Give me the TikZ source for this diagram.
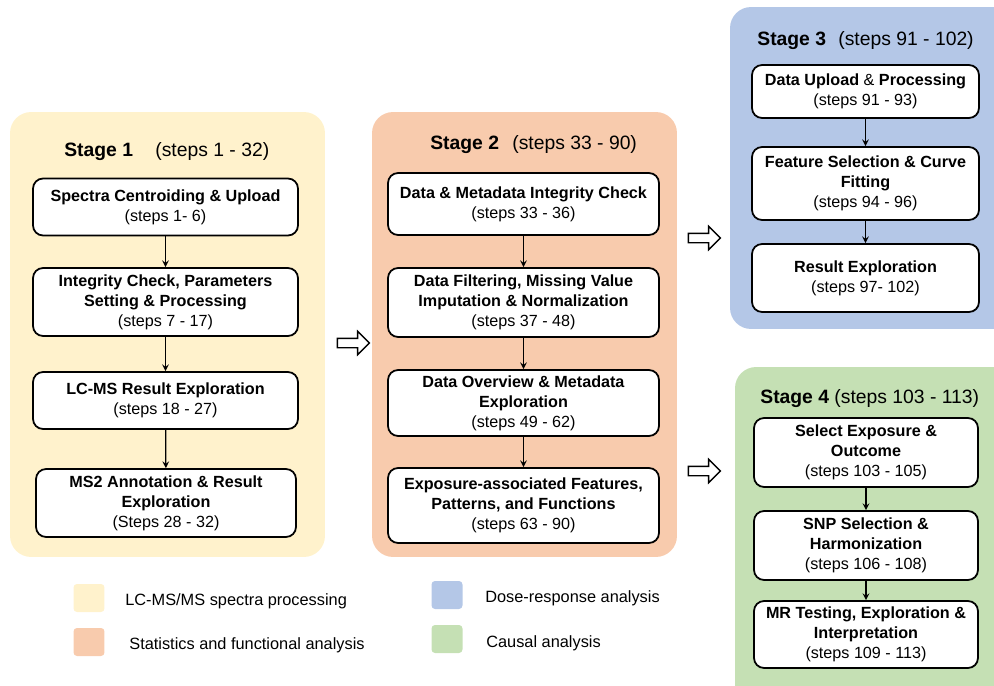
\documentclass[tikz,border=0pt]{standalone}
\usepackage{fontspec}
\setmainfont{Liberation Sans}
\usetikzlibrary{shapes.arrows, positioning}

\definecolor{stageone}{HTML}{FFF2CC}
\definecolor{stagetwo}{HTML}{F8CBAD}
\definecolor{stagethree}{HTML}{B4C7E7}
\definecolor{stagefour}{HTML}{C5E0B4}

\begin{document}
\begin{tikzpicture}[x=0.02cm, y=-0.02cm,
    stagebg/.style={rectangle, rounded corners=0.42cm, inner sep=0pt},
    stepbox/.style={rectangle, draw=black, fill=white, line width=1pt,
                    rounded corners=0.2cm, align=center, inner sep=2pt,
                    font=\fontsize{9.2}{11.3}\selectfont},
    stagetitle/.style={anchor=west, inner sep=0pt, font=\fontsize{11}{13}\selectfont},
    flow/.style={->, >=stealth, line width=0.7pt},
    bigarrow/.style={single arrow, draw=black, fill=white, line width=0.8pt,
                     minimum height=0.64cm, single arrow head extend=0.14cm,
                     inner sep=0.08cm},
    legendbox/.style={rectangle, rounded corners=2pt, minimum width=0.62cm,
                      minimum height=0.56cm},
    legendtext/.style={anchor=west, inner sep=0pt, font=\fontsize{9.3}{11}\selectfont}]

    \clip (0,0) rectangle (994,686);

    % stage panels
    \node[stagebg, fill=stageone, minimum width=6.3cm, minimum height=8.9cm] (panel1) at (167.5,334.5) {};
    \node[stagebg, fill=stagetwo, minimum width=6.1cm, minimum height=8.9cm] (panel2) at (524.5,334.5) {};
    \node[stagebg, fill=stagethree, minimum width=5.8cm, minimum height=6.44cm] (panel3) at (875,168) {};
    \node[stagebg, fill=stagefour, minimum width=5.7cm, minimum height=7cm] (panel4) at (877.5,542) {};

    % titles
    \node[stagetitle] (title1) at (64,152) {\bfseries Stage 1};
    \node[stagetitle] (steps1) at (155,152) {(steps 1 - 32)};
    \node[stagetitle] (title2) at (430,145) {\bfseries Stage 2};
    \node[stagetitle] (steps2) at (512,145) {(steps 33 - 90)};
    \node[stagetitle] (title3) at (757,41) {\bfseries Stage 3};
    \node[stagetitle] (steps3) at (838,41) {(steps 91 - 102)};
    \node[stagetitle] (title4) at (760,399) {\textbf{Stage 4} (steps 103 - 113)};

    % stage 1
    \node[stepbox, minimum width=5.3cm, minimum height=1.14cm] (centroid) at (165.5,207)
        {\textbf{Spectra Centroiding \& Upload}\\(steps 1- 6)};
    \node[stepbox, minimum width=5.3cm, minimum height=1.36cm] (integrity) at (165.5,302)
        {\textbf{Integrity Check, Parameters}\\\textbf{Setting \& Processing}\\(steps 7 - 17)};
    \node[stepbox, minimum width=5.3cm, minimum height=1.14cm] (lcms) at (165.5,400.5)
        {\textbf{LC-MS Result Exploration}\\(steps 18 - 27)};
    \node[stepbox, minimum width=5.2cm, minimum height=1.36cm] (annot) at (166,503)
        {\textbf{MS2 Annotation \& Result}\\\textbf{Exploration}\\(Steps 28 - 32)};

    % stage 2
    \node[stepbox, minimum width=5.42cm, minimum height=1.24cm] (metacheck) at (523.5,204)
        {\textbf{Data \& Metadata Integrity Check}\\(steps 33 - 36)};
    \node[stepbox, minimum width=5.42cm, minimum height=1.38cm] (filtering) at (523.5,302.5)
        {\textbf{Data Filtering, Missing Value}\\\textbf{Imputation \& Normalization}\\(steps 37 - 48)};
    \node[stepbox, minimum width=5.42cm, minimum height=1.32cm] (overview) at (523.5,403)
        {\textbf{Data Overview \& Metadata}\\\textbf{Exploration}\\(steps 49 - 62)};
    \node[stepbox, minimum width=5.42cm, minimum height=1.5cm] (exposure) at (523.5,505.5)
        {\textbf{Exposure-associated Features,}\\\textbf{Patterns, and Functions}\\(steps 63 - 90)};

    % stage 3
    \node[stepbox, minimum width=4.54cm, minimum height=1.06cm] (upload) at (865.5,91.5)
        {\textbf{Data Upload} \& \textbf{Processing}\\(steps 91 - 93)};
    \node[stepbox, minimum width=4.54cm, minimum height=1.46cm] (curve) at (865.5,183.5)
        {\textbf{Feature Selection \& Curve}\\\textbf{Fitting}\\(steps 94 - 96)};
    \node[stepbox, minimum width=4.54cm, minimum height=1.36cm] (result) at (865.5,278)
        {\textbf{Result Exploration}\\(steps 97- 102)};

    % stage 4
    \node[stepbox, minimum width=4.48cm, minimum height=1.38cm] (select) at (866,452.5)
        {\textbf{Select Exposure \&}\\\textbf{Outcome}\\(steps 103 - 105)};
    \node[stepbox, minimum width=4.48cm, minimum height=1.38cm] (snp) at (866,545.5)
        {\textbf{SNP Selection \&}\\\textbf{Harmonization}\\(steps 106 - 108)};
    \node[stepbox, minimum width=4.48cm, minimum height=1.34cm] (mr) at (866,634.5)
        {\textbf{MR Testing, Exploration \&}\\\textbf{Interpretation}\\(steps 109 - 113)};

    \draw[flow] (centroid) -- (integrity);
    \draw[flow] (integrity) -- (lcms);
    \draw[flow] (lcms) -- (annot);
    \draw[flow] (metacheck) -- (filtering);
    \draw[flow] (filtering) -- (overview);
    \draw[flow] (overview) -- (exposure);
    \draw[flow] (upload) -- (curve);
    \draw[flow] (curve) -- (result);
    \draw[flow] (select) -- (snp);
    \draw[flow] (snp) -- (mr);

    % block arrows between stages
    \node[bigarrow] (go12) at (351,343) {};
    \node[bigarrow] (go23) at (702,238) {};
    \node[bigarrow] (go24) at (702,471) {};

    % legend
    \node[legendbox, fill=stageone] (keyone) at (89,598) {};
    \node[legendtext] (keyonetext) at (125,601) {LC-MS/MS spectra processing};
    \node[legendbox, fill=stagetwo] (keytwo) at (89,642) {};
    \node[legendtext] (keytwotext) at (129,645) {Statistics and functional analysis};
    \node[legendbox, fill=stagethree] (keythree) at (447,595) {};
    \node[legendtext] (keythreetext) at (485,598) {Dose-response analysis};
    \node[legendbox, fill=stagefour] (keyfour) at (447,639) {};
    \node[legendtext] (keyfourtext) at (486,643) {Causal analysis};

\end{tikzpicture}
\end{document}
